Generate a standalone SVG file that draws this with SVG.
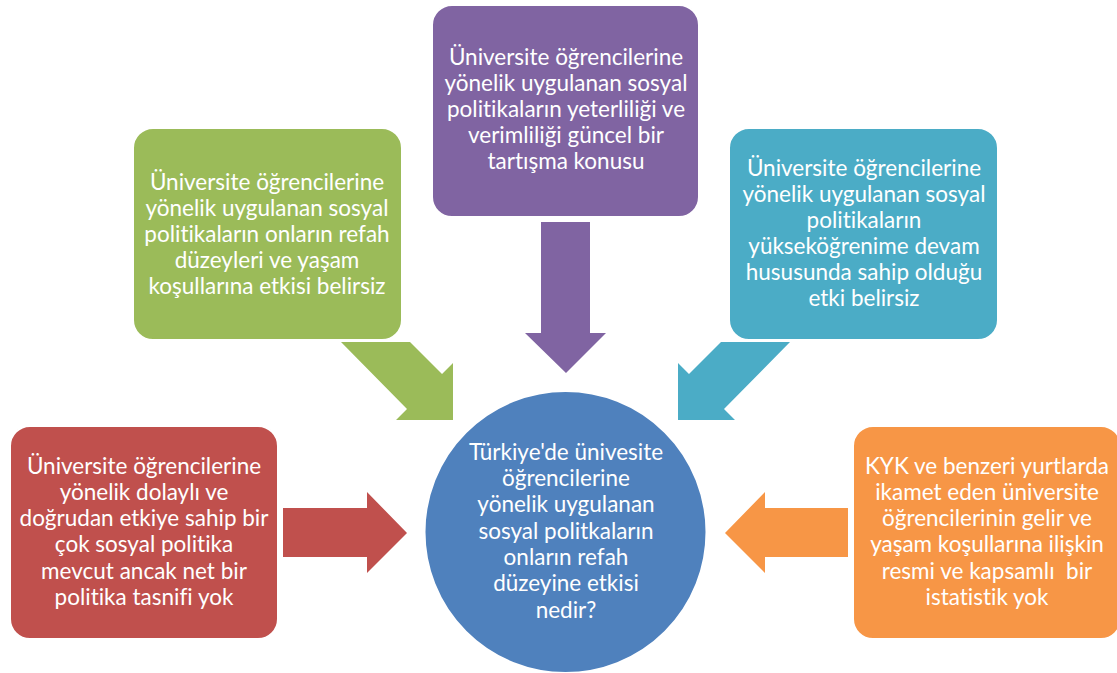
<svg xmlns="http://www.w3.org/2000/svg" width="1117" height="673" viewBox="0 0 1117 673">
<style>
.box{stroke:#FFFFFF;stroke-width:2}
.t{font-family:Lato,"Open Sans","Liberation Sans",sans-serif;font-size:22.5px;fill:#FFFFFF;text-anchor:middle;font-variant-ligatures:none}
</style>
<rect width="1117" height="673" fill="#FFFFFF"/>
<g id="connectors">
<polygon id="arrow-purple" points="541,222 590,222 590,333 606,333 566,373 525,333 541,333" fill="#8064A2"/>
<polygon id="arrow-green" points="341,342 410,342 442,374 453,363 453,420 396,420 407,409" fill="#9BBB59"/>
<polygon id="arrow-teal" points="790,342 721,342 689,374 678,363 678,420 735,420 724,409" fill="#4BACC6"/>
<polygon id="arrow-red" points="283,508 367,508 367,492 407,533 367,573 367,557 283,557" fill="#C0504D"/>
<polygon id="arrow-orange" points="848,508 765,508 765,492 725,533 765,573 765,557 848,557" fill="#F79646"/>
</g>
<g id="node-purple">
<rect class="box" x="432" y="5" width="267" height="212" rx="20" fill="#8064A2"/>
<text class="t" x="566" y="65">Üniversite öğrencilerine</text>
<text class="t" x="566" y="91">yönelik uygulanan sosyal</text>
<text class="t" x="566" y="117">politikaların yeterliliği ve</text>
<text class="t" x="566" y="143">verimliliği güncel bir</text>
<text class="t" x="566" y="169">tartışma konusu</text>
</g>
<g id="node-green">
<rect class="box" x="133" y="128" width="269" height="212" rx="20" fill="#9BBB59"/>
<text class="t" x="267" y="190">Üniversite öğrencilerine</text>
<text class="t" x="267" y="216">yönelik uygulanan sosyal</text>
<text class="t" x="267" y="242">politikaların onların refah</text>
<text class="t" x="267" y="268">düzeyleri ve yaşam</text>
<text class="t" x="267" y="294">koşullarına etkisi belirsiz</text>
</g>
<g id="node-teal">
<rect class="box" x="729" y="128" width="269" height="212" rx="20" fill="#4BACC6"/>
<text class="t" x="864" y="176">Üniversite öğrencilerine</text>
<text class="t" x="864" y="202">yönelik uygulanan sosyal</text>
<text class="t" x="864" y="228">politikaların</text>
<text class="t" x="864" y="254">yükseköğrenime devam</text>
<text class="t" x="864" y="280">hususunda sahip olduğu</text>
<text class="t" x="864" y="306">etki belirsiz</text>
</g>
<g id="node-red">
<rect class="box" x="10" y="426" width="268" height="213" rx="20" fill="#C0504D"/>
<text class="t" x="144" y="474">Üniversite öğrencilerine</text>
<text class="t" x="144" y="500">yönelik dolaylı ve</text>
<text class="t" x="144" y="526">doğrudan etkiye sahip bir</text>
<text class="t" x="144" y="552">çok sosyal politika</text>
<text class="t" x="144" y="579">mevcut ancak net bir</text>
<text class="t" x="144" y="605">politika tasnifi yok</text>
</g>
<g id="node-orange">
<rect class="box" x="853" y="426" width="268" height="213" rx="20" fill="#F79646"/>
<text class="t" x="987" y="474">KYK ve benzeri yurtlarda</text>
<text class="t" x="987" y="500">ikamet eden üniversite</text>
<text class="t" x="987" y="526">öğrencilerinin gelir ve</text>
<text class="t" x="987" y="552">yaşam koşullarına ilişkin</text>
<text class="t" x="987" y="579" style="white-space:pre">resmi ve kapsamlı  bir</text>
<text class="t" x="987" y="605">istatistik yok</text>
</g>
<g id="node-center">
<circle class="box" cx="565.5" cy="532" r="141" fill="#4F81BD"/>
<text class="t" x="566" y="460">Türkiye'de ünivesite</text>
<text class="t" x="566" y="486">öğrencilerine</text>
<text class="t" x="566" y="512">yönelik uygulanan</text>
<text class="t" x="566" y="539">sosyal politkaların</text>
<text class="t" x="566" y="565">onların refah</text>
<text class="t" x="566" y="591">düzeyine etkisi</text>
<text class="t" x="566" y="618">nedir?</text>
</g>
</svg>
